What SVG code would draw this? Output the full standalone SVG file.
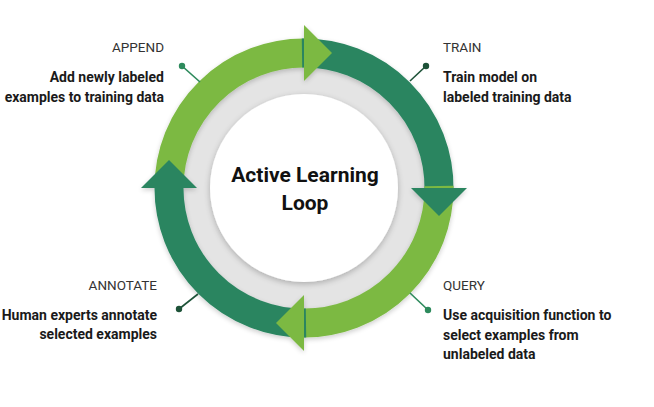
<svg xmlns="http://www.w3.org/2000/svg" width="654" height="407" viewBox="0 0 654 407">
  <defs>
    <filter id="soft" x="-20%" y="-20%" width="140%" height="140%">
      <feGaussianBlur in="SourceAlpha" stdDeviation="3"/>
      <feOffset dx="0" dy="2" result="b"/>
      <feComponentTransfer><feFuncA type="linear" slope="0.25"/></feComponentTransfer>
      <feMerge><feMergeNode/><feMergeNode in="SourceGraphic"/></feMerge>
    </filter>
    <filter id="ringshadow" x="-20%" y="-20%" width="140%" height="140%">
      <feGaussianBlur in="SourceAlpha" stdDeviation="2.5"/>
      <feOffset dx="0" dy="2"/>
      <feComponentTransfer><feFuncA type="linear" slope="0.2"/></feComponentTransfer>
      <feMerge><feMergeNode/><feMergeNode in="SourceGraphic"/></feMerge>
    </filter>
  </defs>
  <style>
    .hdr { font-family: Roboto, "Liberation Sans", sans-serif; font-size: 13.5px; fill: #333333; }
    .desc { font-family: Roboto, "Liberation Sans", sans-serif; font-size: 14px; font-weight: bold; fill: #1a1a1a; }
    .title { font-family: Roboto, "Liberation Sans", sans-serif; font-size: 21px; font-weight: bold; fill: #111111; text-anchor: middle; }
    .light { stroke: #7cb943; }
    .dark { stroke: #2a8560; }
    .body { fill: none; stroke-width: 29; }
    .lightf { fill: #7cb943; }
    .darkf { fill: #2a8560; }
    .lead { stroke-width: 1.6; fill: none; }
  </style>
  <rect width="654" height="407" fill="#ffffff"/>

  <g id="center">
    <circle cx="304" cy="188" r="121" fill="#e4e4e4"/>
    <circle cx="304" cy="188" r="94" fill="#ffffff" filter="url(#soft)"/>
    <text class="title" x="305" y="182">Active Learning</text>
    <text class="title" x="305" y="210">Loop</text>
  </g>

  <g id="connectors" filter="url(#ringshadow)">
    <path class="body light" d="M169 188 A135 135 0 0 1 306 53"/>
    <path class="body dark" d="M302 53 A135 135 0 0 1 439 190"/>
    <path class="body light" d="M439 186 A135 135 0 0 1 302 323"/>
    <path class="body dark" d="M306 323 A135 135 0 0 1 169 186"/>
    <polygon class="lightf" points="304,25 304,81 332,53"/>
    <polygon class="darkf" points="467,188 411,188 439,216"/>
    <polygon class="lightf" points="304,351 304,295 276,323"/>
    <polygon class="darkf" points="141,188 197,188 169,160"/>
  </g>

  <g id="append">
    <line class="lead" x1="182" y1="66" x2="200" y2="82" stroke="#2d8a5c"/>
    <circle cx="182" cy="66" r="3.2" fill="#2d8a5c"/>
    <text class="hdr" x="164" y="52" text-anchor="end">APPEND</text>
    <text class="desc" x="164" y="82" text-anchor="end">Add newly labeled</text>
    <text class="desc" x="164" y="101.5" text-anchor="end">examples to training data</text>
  </g>

  <g id="train">
    <line class="lead" x1="426" y1="66" x2="410" y2="81" stroke="#1d5238"/>
    <circle cx="426" cy="66" r="3.2" fill="#1d5238"/>
    <text class="hdr" x="443" y="52">TRAIN</text>
    <text class="desc" x="443" y="82">Train model on</text>
    <text class="desc" x="443" y="101.5">labeled training data</text>
  </g>

  <g id="query">
    <line class="lead" x1="428" y1="310" x2="410" y2="293" stroke="#2d8a5c"/>
    <circle cx="428" cy="310" r="3.2" fill="#2d8a5c"/>
    <text class="hdr" x="443" y="290">QUERY</text>
    <text class="desc" x="443" y="320">Use acquisition function to</text>
    <text class="desc" x="443" y="339.5">select examples from</text>
    <text class="desc" x="443" y="359">unlabeled data</text>
  </g>

  <g id="annotate">
    <line class="lead" x1="179" y1="309" x2="198" y2="294" stroke="#1d5238"/>
    <circle cx="179" cy="309" r="3.2" fill="#1d5238"/>
    <text class="hdr" x="157" y="290" text-anchor="end">ANNOTATE</text>
    <text class="desc" x="157" y="319.5" text-anchor="end">Human experts annotate</text>
    <text class="desc" x="157" y="339" text-anchor="end">selected examples</text>
  </g>
</svg>
